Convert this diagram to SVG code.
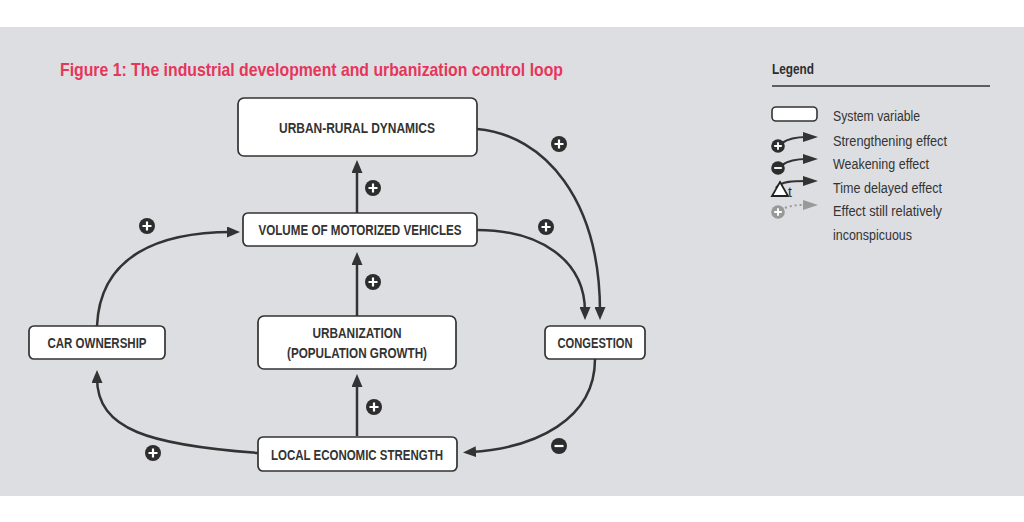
<svg xmlns="http://www.w3.org/2000/svg" width="1024" height="522" viewBox="0 0 1024 522">
<style>
.node rect{fill:#fff;stroke:#333;stroke-width:1.7}
.nt{font-family:"Liberation Sans",Arial,sans-serif;font-weight:bold;font-size:14px;fill:#333;text-anchor:middle}
.lt{font-family:"Liberation Sans",Arial,sans-serif;font-size:14px;fill:#333}
.c{fill:none;stroke:#333;stroke-width:2.5}
.lc{fill:none;stroke:#333;stroke-width:2.2}
</style>
<defs>
<marker id="ah" markerUnits="userSpaceOnUse" markerWidth="14" markerHeight="11" refX="5" refY="5.5" orient="auto">
<path d="M0,0 L13,5.5 L0,11 z" fill="#333"/>
</marker>
<marker id="lah" markerUnits="userSpaceOnUse" markerWidth="15" markerHeight="10" refX="4" refY="5" orient="auto">
<path d="M0,0 L15,5 L0,10 z" fill="#333"/>
</marker>
<marker id="gah" markerUnits="userSpaceOnUse" markerWidth="15" markerHeight="10" refX="4" refY="5" orient="auto">
<path d="M0,0 L15,5 L0,10 z" fill="#999"/>
</marker>
<g id="plus"><circle r="8" fill="#2d2d2d"/><path d="M-4.5,0H4.5M0,-4.5V4.5" stroke="#fff" stroke-width="2.2"/></g>
<g id="minus"><circle r="8" fill="#2d2d2d"/><path d="M-4.5,0H4.5" stroke="#fff" stroke-width="2.2"/></g>
</defs>
<rect x="0" y="0" width="1024" height="522" fill="#fff"/>
<rect x="0" y="27" width="1024" height="469" fill="#dcdee2"/>
<text x="60" y="76" font-family="'Liberation Sans',Arial,sans-serif" font-weight="bold" font-size="19" fill="#e6365a" textLength="503" lengthAdjust="spacingAndGlyphs">Figure 1: The industrial development and urbanization control loop</text>

<g id="connectors">
<path class="c" d="M477,129 C545,135 600,200 600,312" marker-end="url(#ah)"/>
<path class="c" d="M477,230 C540,230 585,260 585,312" marker-end="url(#ah)"/>
<path class="c" d="M595,359 C595,420 535,448 471,452" marker-end="url(#ah)"/>
<path class="c" d="M258,453 C150,445 97,430 97,378" marker-end="url(#ah)"/>
<path class="c" d="M97,326 C100,255 160,232 232,232" marker-end="url(#ah)"/>
<path class="c" d="M357,213 V168" marker-end="url(#ah)"/>
<path class="c" d="M357,316 V260" marker-end="url(#ah)"/>
<path class="c" d="M357,436 V382" marker-end="url(#ah)"/>
<use href="#plus" x="559" y="144"/>
<use href="#plus" x="546" y="227"/>
<use href="#plus" x="373" y="188"/>
<use href="#plus" x="373" y="282"/>
<use href="#plus" x="374" y="407"/>
<use href="#plus" x="147" y="226"/>
<use href="#plus" x="153" y="453"/>
<use href="#minus" x="559" y="446"/>
</g>

<g id="n-urban-rural" class="node"><rect x="238" y="98" width="239" height="58" rx="6"/><text class="nt" x="357" y="133" textLength="156" lengthAdjust="spacingAndGlyphs">URBAN-RURAL DYNAMICS</text></g>
<g id="n-volume" class="node"><rect x="243" y="213" width="234" height="33" rx="5"/><text class="nt" x="360" y="235" textLength="203" lengthAdjust="spacingAndGlyphs">VOLUME OF MOTORIZED VEHICLES</text></g>
<g id="n-urbanization" class="node"><rect x="258" y="316" width="198" height="53" rx="6"/><text class="nt" x="357" y="338" textLength="89" lengthAdjust="spacingAndGlyphs">URBANIZATION</text><text class="nt" x="357" y="358" textLength="140" lengthAdjust="spacingAndGlyphs">(POPULATION GROWTH)</text></g>
<g id="n-car" class="node"><rect x="29" y="326" width="136" height="33" rx="5"/><text class="nt" x="97" y="348" textLength="99" lengthAdjust="spacingAndGlyphs">CAR OWNERSHIP</text></g>
<g id="n-congestion" class="node"><rect x="545" y="326" width="100" height="33" rx="5"/><text class="nt" x="595" y="348" textLength="75" lengthAdjust="spacingAndGlyphs">CONGESTION</text></g>
<g id="n-local" class="node"><rect x="258" y="437" width="199" height="34" rx="5"/><text class="nt" x="357" y="459.5" textLength="172" lengthAdjust="spacingAndGlyphs">LOCAL ECONOMIC STRENGTH</text></g>

<g id="legend">
<text x="772" y="74" font-family="'Liberation Sans',Arial,sans-serif" font-weight="bold" font-size="14" fill="#2d2d2d" textLength="42" lengthAdjust="spacingAndGlyphs">Legend</text>
<line x1="772" y1="86" x2="990" y2="86" stroke="#333" stroke-width="1.5"/>
<rect x="772" y="107" width="45" height="14" rx="4" fill="#fff" stroke="#333" stroke-width="1.6"/>
<text class="lt" x="833" y="121" textLength="87" lengthAdjust="spacingAndGlyphs">System variable</text>
<path class="lc" d="M782,143 C789,138 797,137 807,137" marker-end="url(#lah)"/>
<use href="#plus" transform="translate(778,146) scale(0.85)"/>
<text class="lt" x="833" y="146" textLength="114" lengthAdjust="spacingAndGlyphs">Strengthening effect</text>
<path class="lc" d="M782,165 C789,160 797,159 807,159" marker-end="url(#lah)"/>
<use href="#minus" transform="translate(778,168) scale(0.85)"/>
<text class="lt" x="833" y="169" textLength="96" lengthAdjust="spacingAndGlyphs">Weakening effect</text>
<path class="lc" d="M776,188 C781,181 794,181 807,181" marker-end="url(#lah)"/>
<path d="M780,182 L788,196 L772,196 z" fill="#fff" stroke="#222" stroke-width="1.8"/>
<text x="788" y="197" font-family="'Liberation Sans',Arial,sans-serif" font-size="14" fill="#2d2d2d">t</text>
<text class="lt" x="833" y="193" textLength="109" lengthAdjust="spacingAndGlyphs">Time delayed effect</text>
<path d="M785,208 C792,205 798,205 807,205" fill="none" stroke="#999" stroke-width="2" stroke-dasharray="2,3" marker-end="url(#gah)"/>
<circle cx="778" cy="212" r="6.8" fill="#999"/>
<path d="M774.2,212H781.8M778,208.2V215.8" stroke="#fff" stroke-width="1.9"/>
<text class="lt" x="833" y="216" textLength="109" lengthAdjust="spacingAndGlyphs">Effect still relatively</text>
<text class="lt" x="833" y="240" textLength="79" lengthAdjust="spacingAndGlyphs">inconspicuous</text>
</g>
</svg>
